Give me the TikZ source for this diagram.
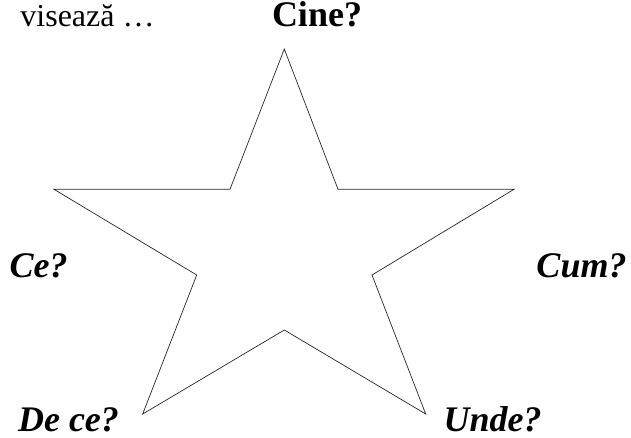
\documentclass[tikz,border=0pt]{standalone}
\usepackage{fontspec}
\setmainfont{Liberation Serif}
\usetikzlibrary{positioning}

\begin{document}
\begin{tikzpicture}[x=1pt,y=-1pt,
    question/.style={font=\fontsize{36}{42}\selectfont\bfseries\itshape, inner sep=0pt, anchor=base, text height=24pt, text depth=0pt},
    intro/.style={font=\fontsize{32}{38}\selectfont, inner sep=0pt, anchor=base, text height=22pt, text depth=0pt}]
    \useasboundingbox (0,0) rectangle (631,438);
    % star
    \draw[black!85, line width=0.7pt, line join=miter]
      (284.3,49) -- (338,189.3) -- (514,189.3) -- (372,275) -- (425.7,414)
      -- (284.3,330) -- (142.7,414) -- (196.7,275) -- (54,189.3) -- (230,189.3) -- cycle;
    % questions
    \node[intro] (visul) at (87.5,27) {visează \dots};
    \node[question, font=\fontsize{36}{42}\selectfont\bfseries] (cine) at (317,27) {Cine?};
    \node[question] (ce) at (38.5,277) {Ce?};
    \node[question] (cum) at (581.5,277) {Cum?};
    \node[question] (dece) at (68.5,431) {De ce?};
    \node[question] (unde) at (492.5,431) {Unde?};
\end{tikzpicture}
\end{document}
